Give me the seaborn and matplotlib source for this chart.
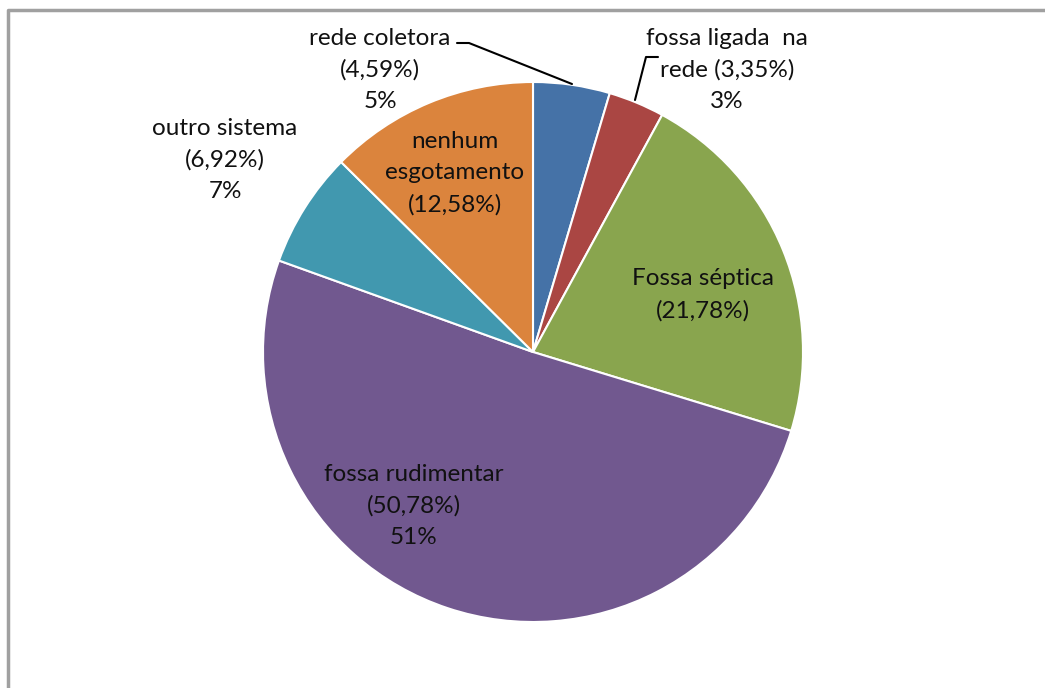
import matplotlib
matplotlib.use("Agg")
import matplotlib.pyplot as plt
import seaborn as sns

# data
categories = ["rede coletora", "fossa ligada na rede", "Fossa séptica",
              "fossa rudimentar", "outro sistema", "nenhum esgotamento"]
shares = [4.59, 3.35, 21.78, 50.78, 6.92, 12.58]
label_texts = ["rede coletora\n(4,59%)\n5%",
               "fossa ligada  na\nrede (3,35%)\n3%",
               "Fossa séptica\n(21,78%)",
               "fossa rudimentar\n(50,78%)\n51%",
               "outro sistema\n(6,92%)\n7%",
               "nenhum\nesgotamento\n(12,58%)"]
colors = ["#4572A7", "#AA4643", "#89A54E", "#71588F", "#4198AF", "#DB843D"]

sns.set_theme(style="white")
plt.rcParams["font.family"] = ["Lato", "DejaVu Sans"]

W, H = 1045, 688
fig = plt.figure(figsize=(W / 100, H / 100), dpi=100)
ax = fig.add_axes([0, 0, 1, 1])

ax.pie(shares, colors=colors, startangle=90, counterclock=False,
       center=(533, H - 352), radius=270,
       wedgeprops=dict(edgecolor="white", linewidth=1.5))
ax.set_xlim(0, W)
ax.set_ylim(0, H)
ax.set_aspect("equal")
ax.axis("off")

# label placement (pixel coords, y from top)
label_pos = [(380, 70), (727, 70), (703, 295), (414, 506), (225, 160), (455, 173)]
for txt, (x, y) in zip(label_texts, label_pos):
    ax.text(x, H - y, txt, ha="center", va="center", fontsize=17.5,
            color="#111111", linespacing=1.6)

# leader lines
ax.plot([457, 469, 572], [H - 43, H - 43, H - 84], color="black", lw=1.5)
ax.plot([658, 646, 635], [H - 57, H - 57, H - 100], color="black", lw=1.5)

# chart border
ax.plot([8, 8, W], [0, H - 10, H - 10], color="#a0a0a0", lw=2.5, clip_on=False)

fig.savefig("out.png", dpi=100, facecolor="white")
